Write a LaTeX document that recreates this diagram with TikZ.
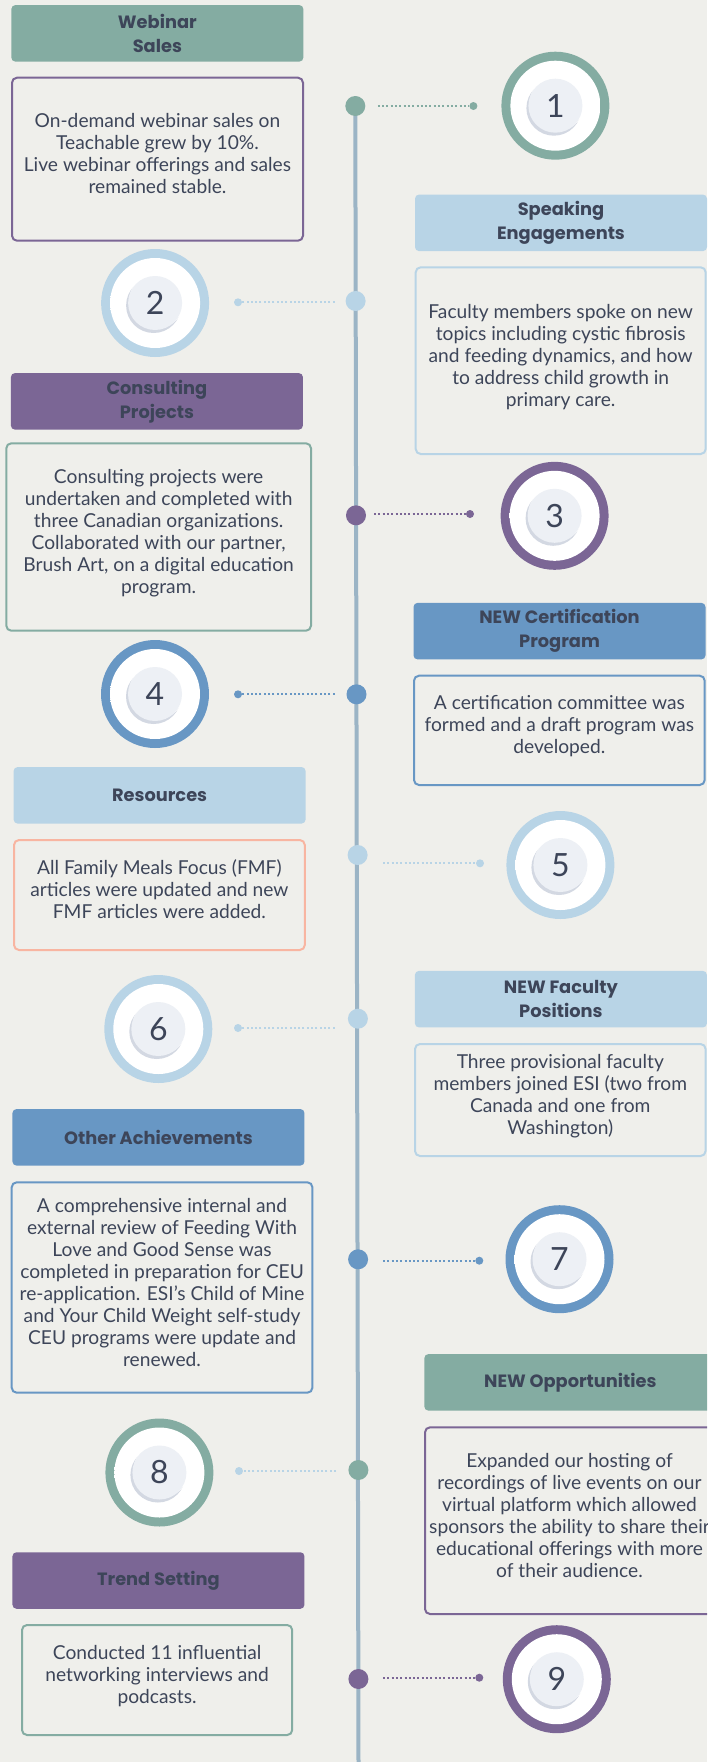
\documentclass[tikz,border=0pt]{standalone}
\usepackage{fontspec}
\setmainfont{Lato}
\newfontfamily\headfont{Poppins}

\definecolor{cPaper}{HTML}{EFEFEB}
\definecolor{cTeal}{HTML}{84ACA2}
\definecolor{cPurple}{HTML}{7B6695}
\definecolor{cSky}{HTML}{B8D4E6}
\definecolor{cBlue}{HTML}{6897C4}
\definecolor{cSalmon}{HTML}{F8B5A1}
\definecolor{cInk}{HTML}{3D4559}
\definecolor{cRail}{HTML}{9BB4C5}
\definecolor{cCore}{HTML}{EDF0F5}
\definecolor{cShade}{HTML}{D3D8E2}
\definecolor{cDish}{HTML}{E1E4EC}
\pgfdeclareradialshading{dish}{\pgfpointorigin}{color(0bp)=(white); color(34bp)=(white); color(50bp)=(cDish)}

\begin{document}
\begin{tikzpicture}[x=1pt,y=-1pt,
  head/.style={rounded corners=4pt,minimum width=292pt,minimum height=56.5pt,inner sep=0pt,
    align=center,text=cInk,font=\headfont\bfseries\fontsize{17.8}{24}\selectfont},
  body/.style={draw=#1,line width=2pt,rounded corners=5pt,inner sep=0pt,align=center,
    text=cInk,font=\fontsize{19.2}{22}\selectfont,text depth=11pt},
  link/.style={line width=2.2pt,dash pattern=on 2pt off 2.3pt},
  raildot/.style={circle,minimum size=20pt,inner sep=0pt},
  tipdot/.style={circle,minimum size=8pt,inner sep=0pt},
  digit/.style={text=cInk,font=\fontsize{32}{32}\selectfont,inner sep=0pt}]
% numbered badge: #1 number, (#2,#3) centre, #4 ring colour
\newcommand{\numbadge}[4]{
  \node[circle,fill=#4,minimum size=108pt,inner sep=0pt] (badge#1) at (#2,#3) {};
  \shade[shading=dish] (badge#1.center) circle (45pt);
  \fill[cShade] ([shift={(-1.5,2.5)}]badge#1.center) circle (27.5pt);
  \fill[white] ([shift={(1.5,-2)}]badge#1.center) circle (27.5pt);
  \fill[cCore] (badge#1.center) circle (27pt);
  \node[digit] (num#1) at (badge#1.center) {#1};}
\useasboundingbox[fill=cPaper] (0,0) rectangle (707,1762);
\clip (0,0) rectangle (707,1762);
% ---------- timeline ----------
\coordinate (railtop) at (355.3,106);
\coordinate (railend) at (358.5,1762);
\draw[cRail,line width=4pt] (railtop) -- (railend);
\foreach \n/\dx/\dy/\ly/\ax/\bx/\lc/\cx/\cy/\c in {
  1/355.3/106/106/377.8/473.4/cTeal/555.4/105.7/cTeal,
  2/355.6/301/302.3/334.5/238/cSky/155.1/303/cSky,
  3/356/515.3/514/374/470/cPurple/554.6/515.8/cPurple,
  4/356.5/694.3/694.3/334.5/238/cBlue/155/694/cBlue,
  5/357.6/855/863.3/383/480/cSky/560.4/865/cSky,
  6/357.9/1018.7/1028/334.5/238/cSky/158.3/1029/cSky,
  7/358.1/1259.3/1260.7/383/479.3/cBlue/559.5/1259.2/cBlue,
  8/358.4/1470/1471/336/239/cSky/159.4/1472.5/cTeal,
  9/358.4/1679/1677.7/383/479.3/cPurple/556.8/1679.2/cPurple}{
  \coordinate (from\n) at (\ax,\ly);
  \node[tipdot,fill=\lc] (tip\n) at (\bx,\ly) {};
  \draw[link,draw=\lc] (from\n) -- (tip\n);
  \node[raildot,fill=\c] (dot\n) at (\dx,\dy) {};
  \numbadge{\n}{\cx}{\cy}{\c}}
% ---------- headings ----------
\node[head,fill=cTeal] (head1) at (157.35,33.35) {Webinar\\Sales};
\node[head,fill=cSky] (head2) at (561,222.85) {Speaking\\Engagements};
\node[head,fill=cPurple] (head3) at (156.9,401.35) {Consulting\\Projects};
\node[head,fill=cBlue] (head4) at (559.5,631.15) {NEW Certification\\Program};
\node[head,fill=cSky] (head5) at (159.6,795.3) {Resources};
\node[head,fill=cSky] (head6) at (560.9,999.15) {NEW Faculty\\Positions};
\node[head,fill=cBlue] (head7) at (158.45,1137.3) {Other Achievements};
\node[head,fill=cTeal] (head8) at (570.35,1382.35) {NEW Opportunities};
\node[head,fill=cPurple] (head9) at (158.45,1580.5) {Trend Setting};
% ---------- text boxes ----------
\node[body=cPurple,minimum width=291pt,minimum height=163pt] (body1) at (157.5,159.2)
  {On-demand webinar sales on\\Teachable grew by 10\%.\\Live webinar offerings and sales\\remained stable.};
\node[body=cSky,minimum width=290pt,minimum height=186.7pt] (body2) at (560.7,360.65)
  {Faculty members spoke on new\\topics including cystic fibrosis\\and feeding dynamics, and how\\to address child growth in\\primary care.};
\node[body=cTeal,minimum width=304.7pt,minimum height=187.4pt] (body3) at (158.65,537)
  {Consulting projects were\\undertaken and completed with\\three Canadian organizations.\\Collaborated with our partner,\\Brush Art, on a digital education\\program.};
\node[body=cBlue,minimum width=290.7pt,minimum height=109.3pt] (body4) at (559.35,730.35)
  {A certification committee was\\formed and a draft program was\\developed.};
\node[body=cSalmon,minimum width=290.8pt,minimum height=110pt] (body5) at (159.4,895)
  {All Family Meals Focus (FMF)\\articles were updated and new\\FMF articles were added.};
\node[body=cSky,minimum width=290.6pt,minimum height=112pt] (body6) at (560.3,1100)
  {Three provisional faculty\\members joined ESI (two from\\Canada and one from\\Washington)};
\node[body=cBlue,minimum width=300.7pt,minimum height=210.4pt] (body7) at (162.05,1287.5)
  {A comprehensive internal and\\external review of Feeding With\\Love and Good Sense was\\completed in preparation for CEU\\re-application. ESI’s Child of Mine\\and Your Child Weight self-study\\CEU programs were update and\\renewed.};
\node[body=cPurple,minimum width=289pt,minimum height=186.7pt] (body8) at (569.5,1520.65)
  {Expanded our hosting of\\recordings of live events on our\\virtual platform which allowed\\sponsors the ability to share their\\educational offerings with more\\of their audience.};
\node[body=cTeal,minimum width=270.2pt,minimum height=110pt] (body9) at (157.1,1680)
  {Conducted 11 influential\\networking interviews and\\podcasts.};
\end{tikzpicture}
\end{document}
